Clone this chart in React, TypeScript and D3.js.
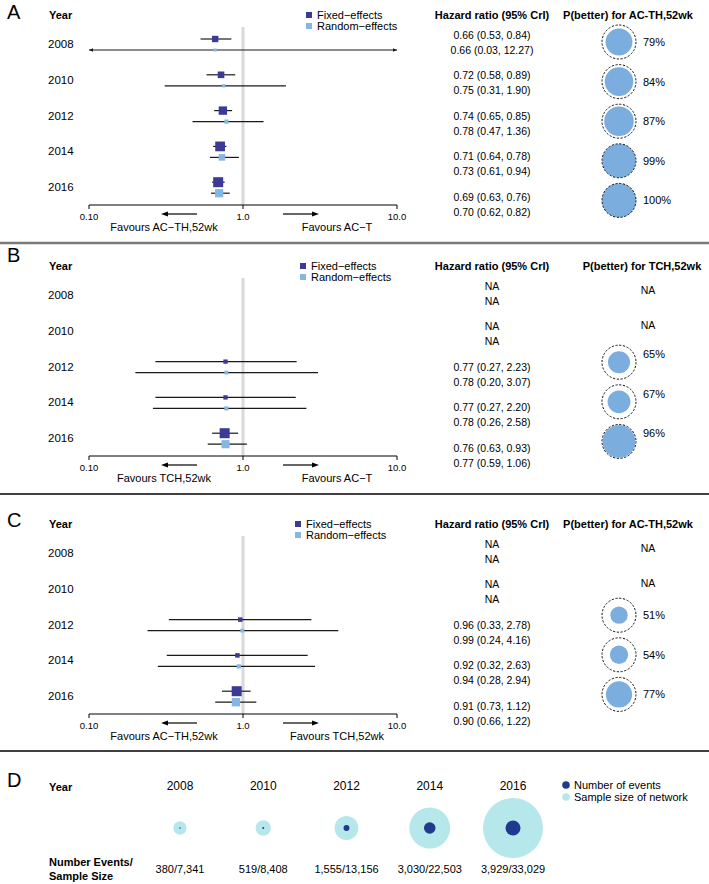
import React from "react";
import * as d3 from "d3";

// ---------- data ----------
const years = [2008, 2010, 2012, 2014, 2016];

const aFixedMean = [0.66, 0.72, 0.74, 0.71, 0.69];
const aFixedLo = [0.53, 0.58, 0.65, 0.64, 0.63];
const aFixedHi = [0.84, 0.89, 0.85, 0.78, 0.76];
const aRandMean = [0.66, 0.75, 0.78, 0.73, 0.70];
const aRandLo = [0.03, 0.31, 0.47, 0.61, 0.62];
const aRandHi = [12.27, 1.90, 1.36, 0.94, 0.82];
const aPBetter = [79, 84, 87, 99, 100];

const bFixedMean = [null, null, 0.77, 0.77, 0.76];
const bFixedLo = [null, null, 0.27, 0.27, 0.63];
const bFixedHi = [null, null, 2.23, 2.20, 0.93];
const bRandMean = [null, null, 0.78, 0.78, 0.77];
const bRandLo = [null, null, 0.20, 0.26, 0.59];
const bRandHi = [null, null, 3.07, 2.58, 1.06];
const bPBetter = [null, null, 65, 67, 96];

const cFixedMean = [null, null, 0.96, 0.92, 0.91];
const cFixedLo = [null, null, 0.33, 0.32, 0.73];
const cFixedHi = [null, null, 2.78, 2.63, 1.12];
const cRandMean = [null, null, 0.99, 0.94, 0.90];
const cRandLo = [null, null, 0.24, 0.28, 0.66];
const cRandHi = [null, null, 4.16, 2.94, 1.22];
const cPBetter = [null, null, 51, 54, 77];

const axisTicks = [0.1, 1, 10];
const axisTickLabels = ["0.10", "1.0", "10.0"];

const numEvents = [380, 519, 1555, 3030, 3929];
const sampleSize = [7341, 8408, 13156, 22503, 33029];

// ---------- styles ----------
const FONT = "'Liberation Sans', Arial, Helvetica, sans-serif";
const FIXED_COL = "#3d3a97";
const RAND_COL = "#86b7e2";
const CIRC_COL = "#7badde";
const SAMPLE_COL = "#b6e7ea";
const EVENT_COL = "#1f3a8e";

const W = 709;
const H = 884;

const x = d3.scaleLog().domain([0.1, 10]).range([89, 397]);

type Panel = {
  letter: string;
  letterY: number;
  top: number;
  fm: (number | null)[];
  fl: (number | null)[];
  fh: (number | null)[];
  rm: (number | null)[];
  rl: (number | null)[];
  rh: (number | null)[];
  p: (number | null)[];
  pHeader: string;
  pHeaderX: number;
  favL: string;
  favR: string;
  legendX: number;
  circOff: number;
  pctShift: number;
};

const panels: Panel[] = [
  {
    letter: "A", letterY: 12, top: 15,
    fm: aFixedMean, fl: aFixedLo, fh: aFixedHi,
    rm: aRandMean, rl: aRandLo, rh: aRandHi, p: aPBetter,
    pHeader: "P(better) for AC-TH,52wk", pHeaderX: 628,
    favL: "Favours AC\u2212TH,52wk", favR: "Favours AC\u2212T",
    legendX: 306, circOff: 27, pctShift: 0,
  },
  {
    letter: "B", letterY: 255, top: 266,
    fm: bFixedMean, fl: bFixedLo, fh: bFixedHi,
    rm: bRandMean, rl: bRandLo, rh: bRandHi, p: bPBetter,
    pHeader: "P(better) for TCH,52wk", pHeaderX: 642,
    favL: "Favours TCH,52wk", favR: "Favours AC\u2212T",
    legendX: 300, circOff: 17, pctShift: -8,
  },
  {
    letter: "C", letterY: 520, top: 524,
    fm: cFixedMean, fl: cFixedLo, fh: cFixedHi,
    rm: cRandMean, rl: cRandLo, rh: cRandHi, p: cPBetter,
    pHeader: "P(better) for AC-TH,52wk", pHeaderX: 628,
    favL: "Favours AC\u2212TH,52wk", favR: "Favours TCH,52wk",
    legendX: 295, circOff: 12, pctShift: 0,
  },
];

const fmtHR = (m: number | null, lo: number | null, hi: number | null) =>
  m == null ? "NA" : `${m.toFixed(2)} (${(lo as number).toFixed(2)}, ${(hi as number).toFixed(2)})`;

function precision(lo: number | null, hi: number | null) {
  if (lo == null || hi == null) return 0;
  return 3.92 / Math.log(hi / lo);
}

function CI({ y, m, lo, hi, color, size }: any) {
  const [d0, d1] = x.domain();
  const l = Math.max(lo, d0);
  const h = Math.min(hi, d1);
  const x1 = x(l);
  const x2 = x(h);
  return (
    <g>
      <line x1={x1} x2={x2} y1={y} y2={y} stroke="#1a1a1a" strokeWidth={1.2} />
      {lo < d0 && <path d={`M${x1},${y} l4,-1.8 l0,3.6 z`} fill="#1a1a1a" />}
      {hi > d1 && <path d={`M${x2},${y} l-4,-1.8 l0,3.6 z`} fill="#1a1a1a" />}
      <rect x={x(m) - size / 2} y={y - size / 2} width={size} height={size} fill={color} />
    </g>
  );
}

function ForestPanel({ pn }: { pn: Panel }) {
  const top = pn.top;
  const rowY = d3.scaleLinear().domain([0, 1]).range([top + 29, top + 29 + 35.8]);
  const axisY = top + 190;
  const allPrec = years.flatMap((_, i) => [precision(pn.fl[i], pn.fh[i]), precision(pn.rl[i], pn.rh[i])]);
  const maxPrec = d3.max(allPrec) as number;
  const sizeScale = d3.scaleSqrt().domain([0, maxPrec]).range([0, 10]);
  const sz = (lo: number | null, hi: number | null) => Math.max(3, sizeScale(precision(lo, hi)));
  const tableX = 492;
  const circX = 619;
  const R = 17;
  return (
    <g fontFamily={FONT}>
      <text x={7} y={pn.letterY} fontSize={20} dominantBaseline="central">{pn.letter}</text>
      <text x={49} y={top} fontSize={11} fontWeight="bold" dominantBaseline="central">Year</text>
      {/* legend */}
      <rect x={pn.legendX} y={top - 3} width={6} height={6} fill={FIXED_COL} />
      <text x={pn.legendX + 11} y={top} fontSize={11} dominantBaseline="central">Fixed{"\u2212"}effects</text>
      <rect x={pn.legendX} y={top + 8} width={6} height={6} fill={RAND_COL} />
      <text x={pn.legendX + 11} y={top + 11} fontSize={11} dominantBaseline="central">Random{"\u2212"}effects</text>
      {/* reference line */}
      <line x1={x(1)} x2={x(1)} y1={top + 12} y2={axisY} stroke="#d9d9d9" strokeWidth={3} />
      {years.map((yr, i) => {
        const yy = rowY(i);
        return (
          <g key={yr}>
            <text x={48} y={yy} fontSize={11.5} dominantBaseline="central">{yr}</text>
            {pn.fm[i] != null && (
              <CI y={yy - 5} m={pn.fm[i]} lo={pn.fl[i]} hi={pn.fh[i]} color={FIXED_COL} size={sz(pn.fl[i], pn.fh[i])} />
            )}
            {pn.rm[i] != null && (
              <CI y={yy + 6} m={pn.rm[i]} lo={pn.rl[i]} hi={pn.rh[i]} color={RAND_COL} size={sz(pn.rl[i], pn.rh[i])} />
            )}
          </g>
        );
      })}
      {/* axis */}
      <line x1={x(0.1)} x2={x(10)} y1={axisY} y2={axisY} stroke="#000" strokeWidth={1} />
      {axisTicks.map((t, i) => (
        <g key={t}>
          <line x1={x(t)} x2={x(t)} y1={axisY} y2={axisY + 4} stroke="#000" strokeWidth={1} />
          <text x={x(t)} y={axisY + 11} fontSize={9.5} textAnchor="middle" dominantBaseline="central">{axisTickLabels[i]}</text>
        </g>
      ))}
      <line x1={x(1) - 46} x2={x(1) - 76} y1={axisY + 9} y2={axisY + 9} stroke="#000" strokeWidth={1.2} />
      <path d={`M${x(1) - 82},${axisY + 9} l7,-2.5 l0,5 z`} fill="#000" />
      <line x1={x(1) + 40} x2={x(1) + 70} y1={axisY + 9} y2={axisY + 9} stroke="#000" strokeWidth={1.2} />
      <path d={`M${x(1) + 76},${axisY + 9} l-7,-2.5 l0,5 z`} fill="#000" />
      <text x={164} y={axisY + 22} fontSize={11} textAnchor="middle" dominantBaseline="central">{pn.favL}</text>
      <text x={337} y={axisY + 22} fontSize={11} textAnchor="middle" dominantBaseline="central">{pn.favR}</text>
      {/* HR table */}
      <text x={tableX} y={top} fontSize={11} fontWeight="bold" textAnchor="middle" dominantBaseline="central">Hazard ratio (95% CrI)</text>
      {years.map((yr, i) => {
        const y1 = top + 19.5 + i * 40.6;
        return (
          <g key={"t" + yr}>
            <text x={tableX} y={y1} fontSize={10.5} textAnchor="middle" dominantBaseline="central">{fmtHR(pn.fm[i], pn.fl[i], pn.fh[i])}</text>
            <text x={tableX} y={y1 + 15} fontSize={10.5} textAnchor="middle" dominantBaseline="central">{fmtHR(pn.rm[i], pn.rl[i], pn.rh[i])}</text>
          </g>
        );
      })}
      {/* P(better) */}
      <text x={pn.pHeaderX} y={top} fontSize={11} fontWeight="bold" textAnchor="middle" dominantBaseline="central">{pn.pHeader}</text>
      {years.map((yr, i) => {
        const p = pn.p[i];
        if (p == null) {
          return (
            <text key={"p" + yr} x={648} y={top + 24 + i * 35} fontSize={10.5} textAnchor="middle" dominantBaseline="central">NA</text>
          );
        }
        const cy = top + pn.circOff + i * 39.6;
        const rScale = d3.scaleLinear().domain([0, 100]).range([0, R]);
        return (
          <g key={"p" + yr}>
            <circle cx={circX} cy={cy} r={rScale(p)} fill={CIRC_COL} />
            <circle cx={circX} cy={cy} r={R} fill="none" stroke="#111" strokeWidth={1} strokeDasharray="2.2,1.6" />
            <text x={643} y={cy + pn.pctShift} fontSize={11} dominantBaseline="central">{p}%</text>
          </g>
        );
      })}
    </g>
  );
}

function PanelD() {
  const top = 751;
  const xs = d3.scalePoint<number>().domain(years).range([180, 513]);
  const rS = d3.scaleLinear().domain([0, 33029]).range([0, 30]);
  const rE = d3.scaleLinear().domain([0, 3929]).range([0, 7.5]);
  const fmt = d3.format(",");
  const cy = 828;
  return (
    <g fontFamily={FONT}>
      <text x={7} y={780} fontSize={20} dominantBaseline="central">D</text>
      <text x={49} y={787} fontSize={11} fontWeight="bold" dominantBaseline="central">Year</text>
      {years.map((yr, i) => (
        <g key={yr}>
          <text x={xs(yr)} y={786} fontSize={12} textAnchor="middle" dominantBaseline="central">{yr}</text>
          <circle cx={xs(yr)} cy={cy} r={rS(sampleSize[i])} fill={SAMPLE_COL} />
          <circle cx={xs(yr)} cy={cy} r={Math.max(0.7, rE(numEvents[i]))} fill={EVENT_COL} />
          <text x={xs(yr)} y={869} fontSize={11} textAnchor="middle" dominantBaseline="central">
            {fmt(numEvents[i])}/{fmt(sampleSize[i])}
          </text>
        </g>
      ))}
      <text x={49} y={862} fontSize={11} fontWeight="bold" dominantBaseline="central">Number Events/</text>
      <text x={49} y={876} fontSize={11} fontWeight="bold" dominantBaseline="central">Sample Size</text>
      <circle cx={566} cy={785} r={3.8} fill={EVENT_COL} />
      <text x={574} y={785} fontSize={11} dominantBaseline="central">Number of events</text>
      <circle cx={566} cy={797} r={3.8} fill={SAMPLE_COL} />
      <text x={574} y={797} fontSize={11} dominantBaseline="central">Sample size of network</text>
    </g>
  );
}

export default function App() {
  return (
    <svg width={W} height={H} style={{ position: "absolute", left: 0, top: 0, background: "#fff" }}>
      <rect x={0} y={0} width={W} height={H} fill="#fff" />
      {panels.map((pn) => (
        <ForestPanel key={pn.letter} pn={pn} />
      ))}
      <line x1={0} x2={W} y1={243} y2={243} stroke="#7a7a7a" strokeWidth={2.5} />
      <line x1={0} x2={W} y1={494} y2={494} stroke="#000" strokeWidth={1.5} />
      <line x1={0} x2={W} y1={751} y2={751} stroke="#000" strokeWidth={1.5} />
      <PanelD />
    </svg>
  );
}
